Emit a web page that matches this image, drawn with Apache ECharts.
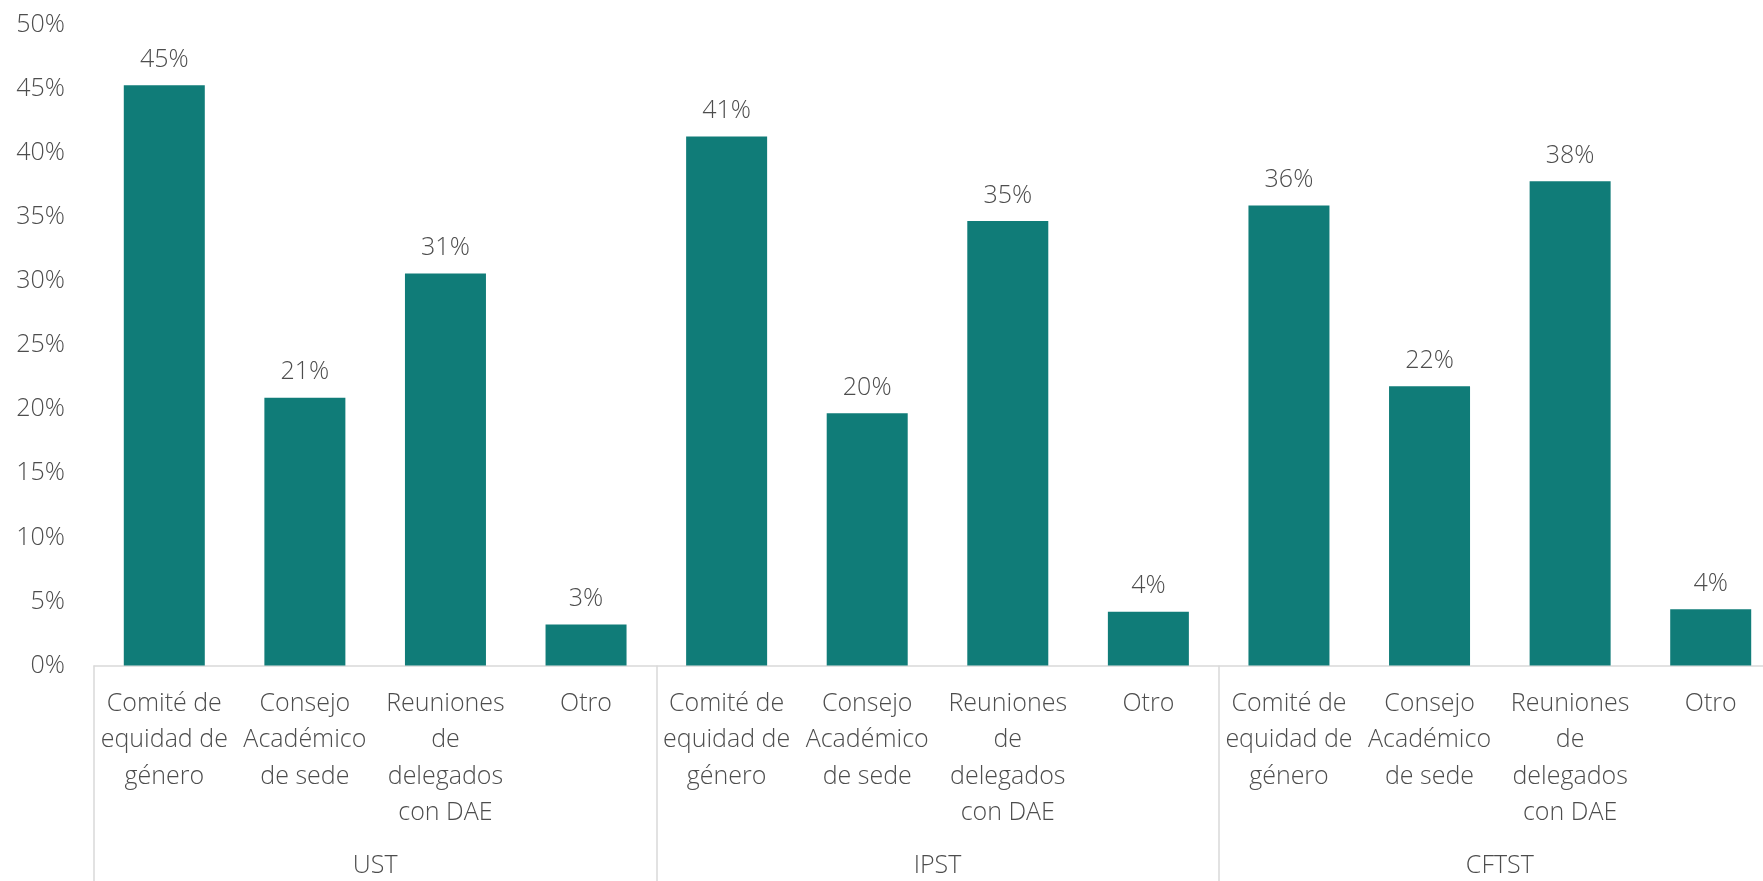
<!DOCTYPE html>
<html>
<head>
<meta charset="utf-8">
<script src="https://cdn.jsdelivr.net/npm/echarts@6/dist/echarts.min.js"></script>
<style>
html,body{margin:0;padding:0;background:#fff;overflow:hidden;}
#chart{width:1763px;height:881px;}
</style>
</head>
<body>
<div id="chart"></div>
<script>
const groups = ['UST', 'IPST', 'CFTST'];
const subCategories = ['Comité de\nequidad de\ngénero', 'Consejo\nAcadémico\nde sede', 'Reuniones\nde\ndelegados\ncon DAE', 'Otro'];
const ustValues = [45.3, 20.9, 30.6, 3.2];
const ipstValues = [41.3, 19.7, 34.7, 4.2];
const cftstValues = [35.9, 21.8, 37.8, 4.4];
const yTicks = [0, 5, 10, 15, 20, 25, 30, 35, 40, 45, 50];

const categories = [];
groups.forEach(() => subCategories.forEach(c => categories.push(c)));
const values = [].concat(ustValues, ipstValues, cftstValues);

const textColor = '#4d4d4d';
const lineColor = '#d9d9d9';
const fontFamily = '"Open Sans", Lato, sans-serif';
const fs = 25;

const chart = echarts.init(document.getElementById('chart'));
chart.setOption({
  animation: false,
  backgroundColor: '#ffffff',
  textStyle: { fontFamily: fontFamily },
  grid: { left: 94, width: 1687, top: 25, bottom: 215.5, containLabel: false, outerBoundsMode: 'none' },
  xAxis: [
    {
      type: 'category',
      data: categories,
      axisLine: { show: true, lineStyle: { color: lineColor, width: 1.5 } },
      axisTick: { show: false },
      axisLabel: {
        interval: 0,
        color: textColor,
        fontSize: fs,
        fontWeight: 300,
        lineHeight: 36.5,
        margin: 20,
        fontFamily: fontFamily
      }
    },
    {
      type: 'category',
      position: 'bottom',
      data: groups,
      axisLine: { show: false },
      axisTick: { show: true, length: 230, lineStyle: { color: lineColor, width: 1.5 } },
      axisLabel: {
        interval: 0,
        color: textColor,
        fontSize: fs,
        fontWeight: 300,
        margin: 188,
        fontFamily: fontFamily
      }
    }
  ],
  yAxis: {
    type: 'value',
    min: yTicks[0],
    max: yTicks[yTicks.length - 1],
    interval: 5,
    axisLine: { show: false },
    axisTick: { show: false },
    splitLine: { show: false },
    axisLabel: {
      color: textColor,
      fontSize: fs,
      fontWeight: 300,
      margin: 29,
      fontFamily: fontFamily,
      formatter: v => v + '%'
    }
  },
  series: [{
    type: 'bar',
    data: values,
    xAxisIndex: 0,
    barWidth: 81,
    itemStyle: { color: '#107C78' },
    label: {
      show: true,
      position: 'top',
      distance: 13,
      color: textColor,
      fontSize: fs,
      fontWeight: 300,
      fontFamily: fontFamily,
      formatter: p => Math.round(p.value) + '%'
    }
  }]
});
</script>
</body>
</html>
